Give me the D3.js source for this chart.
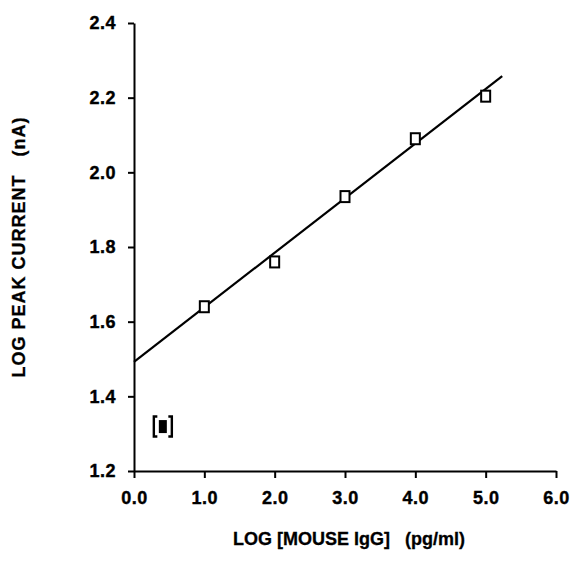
<!DOCTYPE html>
<html>
<head>
<meta charset="utf-8">
<script src="https://cdn.jsdelivr.net/npm/d3@7"></script>
<style>
  html, body { margin: 0; padding: 0; background: #fff; }
  svg { display: block; }
  text { font-family: "Liberation Sans", Arial, Helvetica, sans-serif; font-weight: bold; fill: #000; }
</style>
</head>
<body>
<svg id="chart" width="573" height="566"></svg>
<script>
// ---- data ----
const xValues = [1.0, 2.0, 3.0, 4.0, 5.0];
const yValues = [1.64, 1.76, 1.935, 2.09, 2.204];
const outlierX = [0.41];
const outlierY = [1.319];
const fitLineX = [0.0, 5.235];
const fitLineY = [1.492, 2.258];
const xTicks = [0, 1, 2, 3, 4, 5, 6];
const yTicks = [1.2, 1.4, 1.6, 1.8, 2.0, 2.2, 2.4];
const xTitle = "LOG [MOUSE IgG]   (pg/ml)";
const yTitle = "LOG PEAK CURRENT   (nA)";

const svg = d3.select("#chart");
const x = d3.scaleLinear().domain([0, 6]).range([134, 556]);
const y = d3.scaleLinear().domain([1.2, 2.4]).range([471, 23]);

// axes
const xAxis = svg.append("g")
  .attr("transform", `translate(0,${y(1.2)})`)
  .call(d3.axisBottom(x).tickValues(xTicks).tickFormat(d3.format(".1f"))
    .tickSizeInner(7).tickSizeOuter(0).tickPadding(13));
const yAxis = svg.append("g")
  .attr("transform", `translate(${x(0)},0)`)
  .call(d3.axisLeft(y).tickValues(yTicks).tickFormat(d3.format(".1f"))
    .tickSizeInner(6).tickSizeOuter(0).tickPadding(12));

[xAxis, yAxis].forEach(g => {
  g.select(".domain").attr("stroke", "#000").attr("stroke-width", 2);
  g.selectAll(".tick line").attr("stroke", "#000").attr("stroke-width", 2);
  g.selectAll(".tick text")
    .style("font-family", '"Liberation Sans", Arial, sans-serif')
    .style("font-weight", "bold")
    .style("font-size", "18px")
    .style("letter-spacing", "0.5px")
    .attr("fill", "#000")
    .attr("stroke", "#000")
    .attr("stroke-width", 0.4);
});

// fit line
const line = d3.line().x(d => x(d[0])).y(d => y(d[1]));
svg.append("path")
  .datum(fitLineX.map((v, i) => [v, fitLineY[i]]))
  .attr("d", line)
  .attr("fill", "none")
  .attr("stroke", "#000")
  .attr("stroke-width", 2.2);

// open square markers
const mw = 9, mh = 11;
svg.append("g").selectAll("rect")
  .data(xValues.map((v, i) => [v, yValues[i]]))
  .join("rect")
  .attr("x", d => x(d[0]) - mw / 2)
  .attr("y", d => y(d[1]) - mh / 2)
  .attr("width", mw)
  .attr("height", mh)
  .attr("fill", "#fff")
  .attr("stroke", "#000")
  .attr("stroke-width", 2);

// bracketed filled marker
const og = svg.append("g");
outlierX.forEach((v, i) => {
  const cx = x(v), cy = y(outlierY[i]);
  og.append("rect")
    .attr("x", cx - 4).attr("y", cy - 6.5)
    .attr("width", 8).attr("height", 13)
    .attr("fill", "#000");
  const bh = 10, bo = 9, arm = 3.5;
  og.append("path")
    .attr("d", `M${cx - bo + arm},${cy - bh} H${cx - bo} V${cy + bh} H${cx - bo + arm}`)
    .attr("fill", "none").attr("stroke", "#000").attr("stroke-width", 2.4);
  og.append("path")
    .attr("d", `M${cx + bo - arm},${cy - bh} H${cx + bo} V${cy + bh} H${cx + bo - arm}`)
    .attr("fill", "none").attr("stroke", "#000").attr("stroke-width", 2.4);
});

// axis titles
svg.append("text")
  .attr("x", 349).attr("y", 545)
  .attr("text-anchor", "middle")
  .style("font-size", "18px")
  .style("white-space", "pre")
  .attr("stroke", "#000").attr("stroke-width", 0.3)
  .text(xTitle);

svg.append("text")
  .attr("transform", "translate(25,247) rotate(-90)")
  .attr("text-anchor", "middle")
  .style("font-size", "18px")
  .style("letter-spacing", "1px")
  .style("white-space", "pre")
  .attr("stroke", "#000").attr("stroke-width", 0.3)
  .text(yTitle);
</script>
</body>
</html>
